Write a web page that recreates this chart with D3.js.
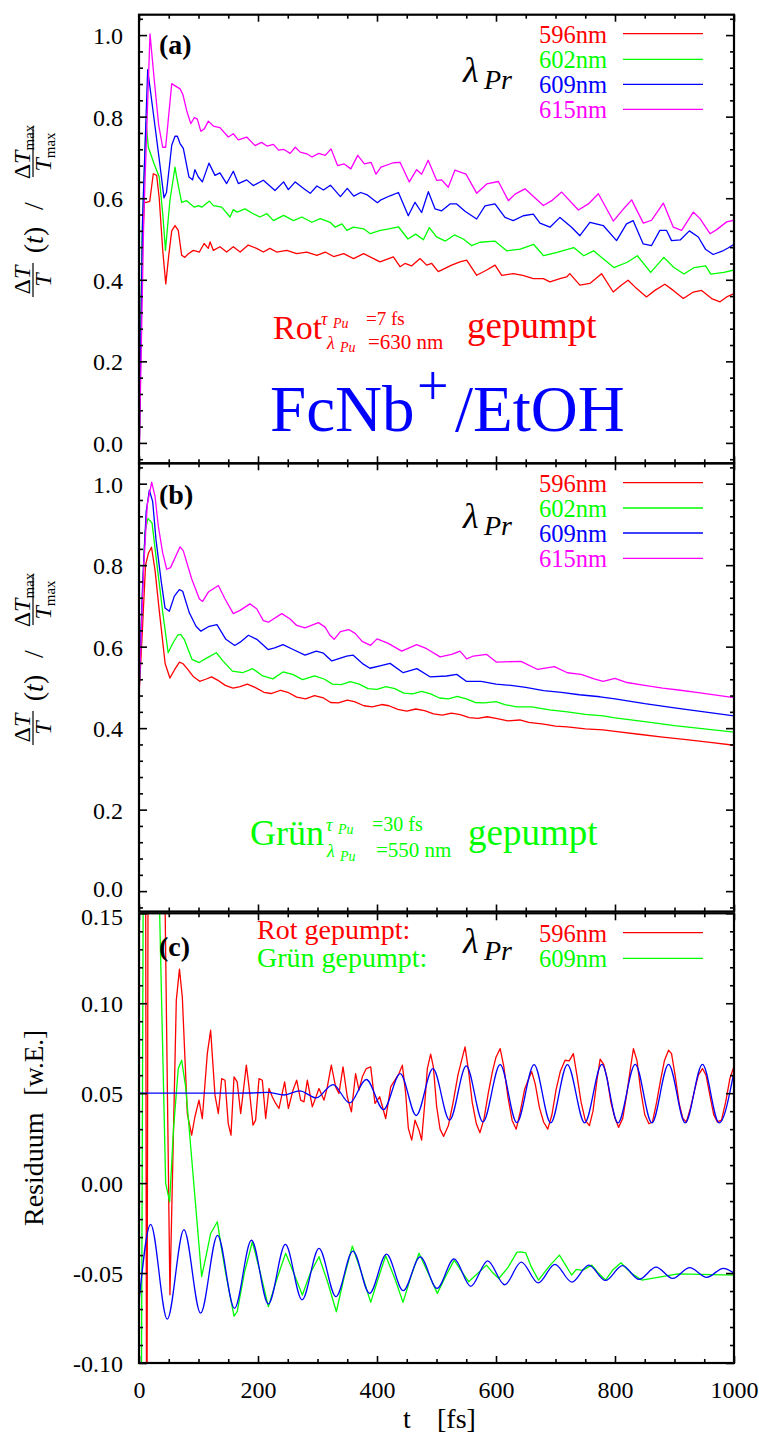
<!DOCTYPE html>
<html><head><meta charset="utf-8">
<script src="https://cdn.jsdelivr.net/npm/d3@7"></script>
<style>
body{margin:0;background:#fff}
svg{display:block}
text{font-family:"Liberation Serif","Times New Roman",serif}
</style>
</head><body>
<svg id="chart" width="759" height="1441"></svg>
<script>
// ---------------- DATA ----------------
const xTicks = [0, 200, 400, 600, 800, 1000];
const xTickLabels = ["0", "200", "400", "600", "800", "1000"];
const yTicksAB = [0.0, 0.2, 0.4, 0.6, 0.8, 1.0];
const yTickLabelsAB = ["0.0", "0.2", "0.4", "0.6", "0.8", "1.0"];
const yTicksC = [0.15, 0.10, 0.05, 0.00, -0.05, -0.10];
const yTickLabelsC = ["0.15", "0.10", "0.05", "0.00", "-0.05", "-0.10"];
const seriesNames = ["596nm", "602nm", "609nm", "615nm"];
const seriesColors = ["#ff0000", "#00ff00", "#0000ff", "#ff00ff"];

// Panel (a): Rot gepumpt  [t (fs), dT/T normalised]
const a596 = [[0,-0.06],[5,0.45],[9,0.59],[12.6,0.59],[18,0.592],[24,0.66],[29.7,0.656],[34,0.60],[40,0.47],[45,0.39],[50,0.46],[55,0.52],[60.5,0.533],[66,0.521],[71.7,0.46],[77,0.455],[83,0.464],[91.4,0.472],[101.5,0.468],[109.4,0.489],[116.5,0.477],[119.4,0.493],[125,0.472],[136,0.481],[147.3,0.468],[158.5,0.481],[170,0.468],[183.6,0.485],[197.6,0.477],[209,0.468],[220,0.477],[231.4,0.468],[248.3,0.472],[265,0.464],[282,0.468],[299,0.460],[313,0.468],[327,0.457],[344,0.464],[360.6,0.452],[377.5,0.464],[394.3,0.452],[405,0.444],[427.5,0.456],[438.7,0.432],[447,0.440],[458,0.434],[472.3,0.452],[483.5,0.436],[492,0.440],[503,0.420],[514.3,0.428],[525.5,0.436],[539.5,0.444],[550.7,0.448],[567.6,0.411],[584.4,0.424],[598.4,0.436],[609.6,0.411],[629.2,0.415],[645,0.411],[662.7,0.403],[679.5,0.403],[690.7,0.395],[707.5,0.403],[718.7,0.407],[724,0.415],[741,0.387],[757.8,0.391],[777.4,0.415],[797,0.370],[811,0.387],[822,0.399],[836,0.379],[852.9,0.358],[867,0.374],[883.8,0.389],[898,0.374],[914.8,0.354],[931.6,0.370],[945.6,0.374],[962.4,0.354],[976.5,0.346],[987.7,0.358],[1000,0.366]];
const a602 = [[0,-0.06],[5,0.5],[11.8,0.787],[15.7,0.725],[25.2,0.685],[34,0.652],[40,0.56],[44.5,0.472],[48,0.53],[52,0.595],[60.5,0.676],[63.3,0.652],[71.6,0.590],[80,0.594],[87,0.585],[93,0.578],[100,0.582],[105.5,0.578],[118.3,0.593],[125,0.582],[139,0.578],[153,0.554],[158.5,0.572],[165,0.566],[178,0.574],[192,0.562],[203,0.554],[215,0.562],[226,0.545],[243,0.558],[259.7,0.545],[273.7,0.554],[290.5,0.541],[304.5,0.550],[321.3,0.541],[329.7,0.529],[341,0.537],[349.4,0.521],[360.6,0.529],[377.5,0.525],[388.7,0.513],[405.5,0.521],[420,0.525],[436,0.530],[452,0.500],[465,0.512],[478,0.498],[488,0.528],[500,0.505],[515,0.495],[530,0.510],[545,0.500],[559,0.484],[573,0.492],[598,0.495],[618,0.471],[641,0.475],[663,0.487],[680,0.459],[702.7,0.467],[730.7,0.479],[747.5,0.459],[764,0.471],[798,0.430],[820.7,0.443],[837.5,0.459],[860,0.418],[882,0.455],[899,0.430],[916,0.414],[933,0.430],[952.4,0.434],[961,0.414],[983,0.418],[1000,0.424]];
const a609 = [[0,-0.06],[6,0.55],[14.6,0.915],[23.5,0.815],[33.6,0.70],[42,0.601],[46.2,0.614],[55,0.730],[60.5,0.752],[64.5,0.752],[69,0.734],[74.5,0.722],[84,0.652],[90,0.645],[94,0.670],[99.7,0.652],[106.5,0.640],[117.6,0.686],[127.7,0.656],[136,0.662],[147.3,0.636],[158.5,0.666],[167,0.636],[181,0.645],[192,0.631],[209,0.644],[228.6,0.619],[243,0.640],[251,0.621],[262.6,0.640],[276.6,0.624],[287.8,0.612],[299,0.630],[310,0.620],[321.7,0.632],[338.5,0.604],[350,0.624],[361,0.605],[372.6,0.614],[383.8,0.608],[400.7,0.589],[406.7,0.596],[422,0.606],[436,0.614],[452.6,0.557],[463.9,0.590],[475,0.565],[486.3,0.616],[497.5,0.574],[508.7,0.569],[522.7,0.586],[533.9,0.586],[547.9,0.568],[567.5,0.549],[581.5,0.581],[598.3,0.586],[615.1,0.553],[629,0.545],[645.8,0.557],[662.7,0.561],[673.9,0.539],[690.7,0.529],[707.5,0.553],[727,0.529],[741,0.508],[757.8,0.541],[780.2,0.533],[802.6,0.496],[819.4,0.537],[830.6,0.545],[847.4,0.488],[861.4,0.484],[875.4,0.521],[886.7,0.521],[895,0.496],[910,0.498],[925,0.520],[940,0.505],[952,0.475],[965,0.462],[980,0.470],[990,0.478],[1000,0.487]];
const a615 = [[0,-0.06],[8,0.55],[18.5,1.003],[25,0.90],[33,0.78],[39.8,0.725],[44.8,0.725],[55,0.881],[63.5,0.873],[69,0.868],[73.6,0.855],[80.3,0.814],[87,0.783],[93.2,0.798],[98,0.794],[104,0.764],[109.8,0.770],[116.5,0.789],[125,0.777],[136,0.773],[150,0.750],[158.5,0.758],[167,0.743],[181,0.750],[195,0.729],[206,0.737],[215,0.728],[226,0.732],[234.5,0.718],[243,0.720],[254,0.710],[262.6,0.725],[271,0.713],[282,0.709],[290.8,0.701],[302,0.710],[313,0.705],[322.8,0.721],[333.7,0.680],[344.9,0.684],[356,0.672],[367.6,0.705],[378.8,0.684],[390,0.688],[398.3,0.659],[406.7,0.676],[427.5,0.687],[438.7,0.688],[454.3,0.640],[466.6,0.670],[475,0.659],[486,0.693],[500.2,0.644],[508.6,0.645],[519.8,0.627],[531,0.669],[549.6,0.659],[567.6,0.612],[584.4,0.635],[604,0.641],[620.8,0.594],[632,0.610],[648.7,0.623],[679.6,0.582],[693.6,0.594],[710.4,0.615],[738.4,0.571],[755.2,0.586],[772,0.611],[797.2,0.544],[816.8,0.578],[828,0.596],[847.6,0.539],[861.6,0.546],[881.2,0.588],[898,0.529],[912,0.521],[931.6,0.566],[942.9,0.550],[959.7,0.513],[970.9,0.523],[987.7,0.542],[1000,0.546]];

// Panel (b): Grün gepumpt
const b596 = [[0,0.48],[5,0.62],[11,0.80],[16,0.83],[21,0.844],[27,0.787],[34,0.689],[44,0.558],[52,0.523],[60,0.544],[68,0.562],[74,0.558],[80,0.548],[91,0.527],[102,0.515],[112,0.520],[122,0.526],[132,0.518],[145,0.505],[158,0.498],[170,0.502],[182,0.508],[195,0.500],[210,0.488],[222,0.485],[238,0.493],[250,0.488],[265,0.476],[280,0.472],[295,0.480],[310,0.474],[322,0.463],[335,0.462],[350,0.469],[362,0.465],[378,0.455],[392,0.452],[408,0.458],[420,0.455],[435,0.446],[450,0.442],[465,0.447],[480,0.443],[495,0.435],[510,0.432],[525,0.437],[540,0.433],[555,0.426],[570,0.424],[585,0.428],[600,0.424],[620,0.418],[640,0.420],[655,0.414],[680,0.410],[700,0.405],[720,0.403],[750,0.398],[780,0.396],[800,0.392],[840,0.385],[880,0.378],[920,0.372],[960,0.365],[1000,0.358]];
const b602 = [[0,0.48],[5,0.70],[10,0.88],[15,0.915],[22,0.903],[28.6,0.821],[40,0.683],[49,0.585],[57,0.609],[65,0.628],[70,0.630],[76,0.618],[89,0.569],[101,0.561],[115,0.573],[130,0.585],[141,0.565],[157,0.540],[174,0.536],[191,0.546],[208,0.528],[225,0.521],[242,0.538],[258,0.532],[275,0.519],[295,0.528],[312,0.520],[325,0.508],[340,0.507],[355,0.514],[370,0.508],[385,0.497],[400,0.495],[415,0.502],[430,0.497],[445,0.486],[460,0.484],[475,0.490],[490,0.484],[505,0.474],[520,0.472],[535,0.478],[550,0.472],[565,0.463],[580,0.462],[600,0.465],[615,0.458],[635,0.452],[660,0.452],[690,0.445],[720,0.440],[750,0.434],[780,0.430],[800,0.425],[850,0.416],[900,0.406],[950,0.398],[1000,0.390]];
const b609 = [[0,0.48],[6,0.75],[12,0.93],[17.4,0.984],[23,0.956],[28.6,0.862],[37,0.764],[43.7,0.695],[51,0.687],[59.4,0.724],[67.8,0.740],[73.4,0.736],[84.6,0.683],[95.8,0.650],[104,0.638],[118,0.650],[131,0.654],[146,0.618],[161,0.603],[170,0.611],[184,0.628],[198,0.618],[217,0.593],[228,0.597],[242,0.605],[259,0.593],[279,0.579],[298,0.589],[310,0.584],[324,0.565],[332,0.569],[349,0.577],[360,0.579],[377,0.557],[388,0.547],[405,0.553],[422,0.559],[444,0.536],[467,0.546],[489,0.526],[517,0.528],[534,0.532],[550,0.515],[575,0.515],[600,0.508],[625,0.505],[650,0.500],[680,0.492],[710,0.488],[740,0.482],[775,0.477],[800,0.472],[850,0.460],[900,0.450],[950,0.440],[1000,0.430]];
const b615 = [[0,0.48],[8,0.80],[14,0.95],[21.3,1.004],[27,0.968],[32.5,0.895],[39.8,0.83],[46.6,0.79],[53,0.794],[69,0.845],[74.5,0.835],[88.6,0.766],[101.5,0.717],[107,0.711],[116.5,0.734],[133.4,0.750],[144.6,0.717],[158.5,0.681],[169.8,0.689],[186.5,0.705],[197.8,0.693],[209,0.664],[217.4,0.660],[240,0.681],[254,0.668],[265,0.652],[279,0.646],[301.5,0.659],[312.7,0.648],[321,0.628],[328,0.618],[338.5,0.637],[352.5,0.642],[363.7,0.632],[375,0.613],[389,0.603],[400,0.619],[419,0.608],[441.5,0.589],[466.6,0.605],[483.5,0.595],[506,0.575],[525.5,0.581],[539.5,0.589],[550.7,0.570],[562,0.577],[584.4,0.581],[601,0.562],[642,0.564],[670,0.544],[698,0.551],[720,0.536],[743,0.532],[765,0.521],[780,0.515],[800,0.522],[820,0.512],[850,0.505],[880,0.498],[910,0.493],[940,0.487],[970,0.481],[1000,0.475]];

// Panel (c): residuals (w.E.)
const cRot596 = [[0,0.30],[10,0.40],[13,-0.20],[16,0.30],[30,0.40],[44,0.15],[52,-0.062],[62.7,0.1017],[68,0.119],[72.8,0.1035],[81.2,0.0387],[88.5,0.0267],[94,0.0369],[100.8,0.0461],[106.4,0.0359],[114.8,0.072],[120.4,0.085],[127.7,0.0489],[133.3,0.0387],[139,0.0581],[144.5,0.0572],[150,0.0331],[154.6,0.0267],[159.7,0.0591],[165,0.0563],[170.9,0.0387],[180.4,0.0656],[184.9,0.0535],[191.6,0.0322],[196,0.035],[201.7,0.0581],[207.3,0.0572],[212.9,0.0359],[218.5,0.0526],[224,0.048],[229.7,0.0443],[235.3,0.0415],[244.8,0.0563],[251,0.0415],[258.8,0.0517],[265,0.0572],[271.7,0.0461],[277.3,0.0452],[282.9,0.0572],[291.3,0.0424],[302.5,0.0526],[311,0.0461],[316.5,0.0535],[323.2,0.0656],[330.5,0.0535],[336,0.0498],[342.9,0.0646],[350,0.048],[357,0.0396],[364,0.0609],[369.7,0.0517],[375.4,0.0591],[382,0.0637],[389.4,0.0646],[396.6,0.0443],[404.5,0.048],[414.6,0.0359],[423,0.0535],[437,0.0609],[442.6,0.0656],[448.2,0.0498],[452.7,0.0304],[458.3,0.0239],[463.9,0.035],[470.6,0.0294],[475,0.0239],[480.7,0.0461],[484.6,0.0637],[490.2,0.0717],[494.7,0.0646],[500.3,0.0424],[506,0.030],[512,0.026],[520,0.032],[528,0.045],[536,0.060],[542,0.068],[548,0.0757],[554,0.062],[560,0.045],[567,0.033],[573,0.028],[580,0.036],[587,0.050],[594,0.062],[600,0.070],[607,0.0748],[613,0.065],[620,0.048],[627,0.035],[634,0.030],[641,0.040],[648,0.052],[654,0.0572],[660,0.062],[666,0.055],[673,0.042],[680,0.034],[687,0.030],[694,0.038],[701,0.052],[708,0.062],[716,0.0683],[723,0.068],[730,0.072],[736,0.060],[743,0.045],[750,0.035],[757,0.032],[763,0.040],[770,0.058],[775,0.0689],[781,0.066],[787,0.058],[793,0.045],[800,0.036],[806,0.031],[813,0.036],[820,0.050],[826,0.064],[831,0.0748],[837,0.068],[843,0.052],[850,0.038],[857,0.033],[863,0.034],[870,0.045],[877,0.058],[883,0.068],[890,0.0739],[895,0.072],[901,0.060],[908,0.044],[914,0.036],[920,0.034],[927,0.042],[934,0.052],[940,0.060],[947,0.0637],[953,0.060],[960,0.048],[966,0.038],[972,0.034],[979,0.035],[986,0.045],[993,0.058],[1000,0.065]];
const cRotFit = [[0,0.0500],[100,0.0500],[150,0.0500],[185,0.0501],[215.7,0.0504],[244,0.0490],[270,0.0513],[298,0.0474],[326,0.0548],[354,0.0446],[382,0.0576],[411,0.0409],[439,0.0609],[466,0.0376],[494,0.0637],[522,0.0350],[550,0.0652],[578,0.0340],[607,0.0659],[635,0.0336],[664,0.0659],[692,0.0335],[720,0.0659],[749,0.0335],[778,0.0660],[805,0.0335],[834,0.0660],[862,0.0335],[890,0.0660],[918,0.0335],[947,0.0660],[975,0.0335],[1000,0.0620]];
const cGruen609 = [[0,-0.20],[4,-0.12],[8,0.25],[20,0.35],[34.7,0.15],[44.8,0.0],[51.5,-0.0104],[58,0.03],[66,0.0637],[71.7,0.0683],[78.4,0.0535],[95,-0.0116],[105.3,-0.052],[113,-0.040],[120.4,-0.028],[131.7,-0.0215],[138,-0.035],[145.7,-0.0502],[159.7,-0.0739],[165,-0.0715],[177,-0.050],[190.5,-0.0326],[204,-0.050],[217.4,-0.0687],[232,-0.053],[246.5,-0.039],[260,-0.050],[274.5,-0.0622],[288,-0.050],[302.5,-0.0409],[317,-0.055],[331.7,-0.0715],[345,-0.052],[358.5,-0.035],[374,-0.050],[389.4,-0.0663],[402,-0.053],[414.6,-0.0404],[430,-0.053],[443.7,-0.0663],[457,-0.052],[470.6,-0.039],[486,-0.050],[501.4,-0.0613],[515,-0.052],[529.8,-0.0428],[542,-0.049],[554,-0.0548],[570,-0.050],[584,-0.0456],[595,-0.050],[604.7,-0.053],[620,-0.047],[635,-0.0385],[641,-0.0382],[650,-0.0388],[660,-0.047],[671.5,-0.0539],[690,-0.046],[706.6,-0.040],[716,-0.045],[727,-0.0511],[735,-0.048],[745,-0.0485],[761,-0.0456],[772,-0.050],[784,-0.0539],[797,-0.048],[810,-0.0443],[827,-0.050],[845,-0.0539],[906,-0.0505],[1000,-0.0511]];
const cGruenFit = [[0,-0.066],[19.6,-0.0229],[47.5,-0.0756],[75.5,-0.0258],[103.5,-0.0723],[132,-0.0290],[160.5,-0.0696],[189,-0.0317],[217.5,-0.0672],[246,-0.0341],[274,-0.0649],[302.5,-0.0363],[331,-0.0631],[359.5,-0.0378],[387.5,-0.0613],[416,-0.0395],[444,-0.0598],[472.5,-0.0410],[501,-0.0585],[529.5,-0.0421],[557.5,-0.0574],[586,-0.0432],[614.5,-0.0565],[642.5,-0.0439],[671,-0.0555],[699,-0.0452],[727.5,-0.0550],[756,-0.0456],[784,-0.0541],[812.5,-0.0459],[840.5,-0.0535],[869,-0.0467],[897,-0.0530],[925.5,-0.0470],[954,-0.0524],[982,-0.0474],[1000,-0.0500]];

// ---------------- DRAWING ----------------
const svg = d3.select("#chart");
const X0 = 139, X1 = 734;
const x = d3.scaleLinear().domain([0, 1000]).range([X0, X1]);

const panels = [
  {key: "a", top: 14.7, bottom: 463.3, dom: [-0.05, 1.05]},
  {key: "b", top: 463.3, bottom: 911.5, dom: [-0.05, 1.05]},
  {key: "c", top: 913.3, bottom: 1363, dom: [-0.10, 0.15]}
];
panels.forEach(p => { p.y = d3.scaleLinear().domain(p.dom).range([p.bottom, p.top]); });

const defs = svg.append("defs");
panels.forEach(p => {
  defs.append("clipPath").attr("id", "clip-" + p.key)
    .append("rect").attr("x", X0).attr("y", p.top).attr("width", X1 - X0).attr("height", p.bottom - p.top);
});

const xMinor = d3.range(0, 1001, 50).filter(v => v % 200 !== 0);

function styleAxis(sel) {
  sel.attr("font-family", null);
  sel.select(".domain").remove();
  sel.selectAll(".tick line").attr("stroke", "#000").attr("stroke-width", 1.6);
  sel.selectAll("text").attr("font-size", 24).attr("fill", "#000");
}

// per-panel label nudges (px) so the touching labels at the b/c seam do not collide
function drawAxes(p, majorY, minorY, labels, showX, nudge) {
  const g = svg.append("g");
  g.append("g").attr("transform", `translate(${X0},0)`)
    .call(d3.axisLeft(p.y).tickValues(majorY).tickSize(-8).tickPadding(16)
      .tickFormat((d, i) => labels[i])).call(styleAxis)
    .selectAll("text").attr("dy", "0.36em")
    .attr("y", (d, i) => (nudge && nudge[i]) || 0);
  g.append("g").attr("transform", `translate(${X0},0)`)
    .call(d3.axisLeft(p.y).tickValues(minorY).tickSize(-4).tickFormat("")).call(styleAxis);
  g.append("g").attr("transform", `translate(${X1},0)`)
    .call(d3.axisRight(p.y).tickValues(majorY).tickSize(-8).tickFormat("")).call(styleAxis);
  g.append("g").attr("transform", `translate(${X1},0)`)
    .call(d3.axisRight(p.y).tickValues(minorY).tickSize(-4).tickFormat("")).call(styleAxis);
  g.append("g").attr("transform", `translate(0,${p.top})`)
    .call(d3.axisTop(x).tickValues(xTicks).tickSize(-7).tickFormat("")).call(styleAxis);
  g.append("g").attr("transform", `translate(0,${p.top})`)
    .call(d3.axisTop(x).tickValues(xMinor).tickSize(-4).tickFormat("")).call(styleAxis);
  g.append("g").attr("transform", `translate(0,${p.bottom})`)
    .call(d3.axisBottom(x).tickValues(xTicks).tickSize(-7).tickPadding(18)
      .tickFormat((d, i) => showX ? xTickLabels[i] : "")).call(styleAxis);
  g.append("g").attr("transform", `translate(0,${p.bottom})`)
    .call(d3.axisBottom(x).tickValues(xMinor).tickSize(-4).tickFormat("")).call(styleAxis);
}

function drawSeries(p, data, color, curve) {
  const line = d3.line().x(d => x(d[0])).y(d => p.y(d[1])).curve(curve || d3.curveLinear);
  svg.append("path").datum(data).attr("clip-path", `url(#clip-${p.key})`)
    .attr("fill", "none").attr("stroke", color).attr("stroke-width", 1.3)
    .attr("stroke-linejoin", "round").attr("d", line);
}

const minorAB = d3.range(-1, 27).map(k => k * 0.04).filter(v => Math.abs(v * 5 - Math.round(v * 5)) > 1e-6 && v >= -0.05 && v <= 1.05);
const minorC = d3.range(-10, 16).map(k => k * 0.01).filter(v => Math.abs(v * 20 - Math.round(v * 20)) > 1e-6);

const pa = panels[0], pb = panels[1], pc = panels[2];
[a596, a602, a609, a615].forEach((s, i) => drawSeries(pa, s, seriesColors[i]));
[b596, b602, b609, b615].forEach((s, i) => drawSeries(pb, s, seriesColors[i]));
drawSeries(pc, cRot596, "#ff0000");
drawSeries(pc, cGruen609, "#00ff00");
drawSeries(pc, cRotFit, "#0000ff", d3.curveMonotoneX);
drawSeries(pc, cGruenFit, "#0000ff", d3.curveMonotoneX);

drawAxes(pa, yTicksAB, minorAB, yTickLabelsAB, false);
drawAxes(pb, yTicksAB, minorAB, yTickLabelsAB, false, [-3, 0, 0, 0, 0, 0]);
drawAxes(pc, yTicksC, minorC, yTickLabelsC, true, [3, 0, 0, 0, 0, 0]);

panels.forEach(p => {
  svg.append("rect").attr("x", X0).attr("y", p.top).attr("width", X1 - X0).attr("height", p.bottom - p.top)
    .attr("fill", "none").attr("stroke", "#000").attr("stroke-width", 2.2);
});

// ---------- text helpers ----------
function txt(xp, yp, s, size, color, opts) {
  opts = opts || {};
  const t = svg.append("text").attr("x", xp).attr("y", yp).attr("font-size", size)
    .attr("fill", color || "#000").text(s);
  if (opts.italic) t.attr("font-style", "italic");
  if (opts.bold) t.attr("font-weight", "bold");
  if (opts.anchor) t.attr("text-anchor", opts.anchor);
  return t;
}

txt(159, 54, "(a)", 28, "#000", {bold: true});
txt(159, 504, "(b)", 28, "#000", {bold: true});
txt(159, 956, "(c)", 28, "#000", {bold: true});

function lambdaPr(xp, base) {
  txt(xp, base, "λ", 36, "#000", {italic: true});
  txt(xp + 21, base + 7, "Pr", 28, "#000", {italic: true});
}
const legA = [33.7, 59.3, 84.3, 109.3];
const legB = [482.7, 508, 533, 558.3];
seriesNames.forEach((n, i) => {
  txt(607, legA[i] + 9, n, 24.5, seriesColors[i], {anchor: "end"});
  svg.append("line").attr("x1", 623).attr("x2", 703).attr("y1", legA[i]).attr("y2", legA[i]).attr("stroke", seriesColors[i]).attr("stroke-width", 1.3);
  txt(607, legB[i] + 9, n, 24.5, seriesColors[i], {anchor: "end"});
  svg.append("line").attr("x1", 623).attr("x2", 703).attr("y1", legB[i]).attr("y2", legB[i]).attr("stroke", seriesColors[i]).attr("stroke-width", 1.3);
});
lambdaPr(463, 82);
lambdaPr(463, 528);
[[932.7, "596nm", "#ff0000"], [958.3, "609nm", "#00ff00"]].forEach(([ly, n, c]) => {
  txt(607, ly + 9, n, 24.5, c, {anchor: "end"});
  svg.append("line").attr("x1", 623).attr("x2", 703).attr("y1", ly).attr("y2", ly).attr("stroke", c).attr("stroke-width", 1.3);
});
lambdaPr(463, 953);
txt(257, 939, "Rot gepumpt:", 28, "#ff0000");
txt(257, 967, "Grün gepumpt:", 28, "#00ff00");

// annotation (a)
const red = "#ff0000", grn = "#00ff00";
txt(273, 339, "Rot", 34, red);
txt(321, 325, "τ", 18, red, {italic: true});
txt(333, 328, "Pu", 14, red, {italic: true});
txt(366, 325, "=7 fs", 19, red);
txt(327, 349, "λ", 18, red, {italic: true});
txt(340, 352, "Pu", 14, red, {italic: true});
txt(368, 349, "=630 nm", 21, red);
txt(467, 338, "gepumpt", 37, red);
// FcNb+/EtOH
txt(270, 431, "FcNb", 65, "#0000ff");
txt(417, 405, "+", 56, "#0000ff");
txt(455, 431, "/EtOH", 65, "#0000ff");

// annotation (b)
txt(250, 845, "Grün", 36, grn);
txt(326, 831, "τ", 18, grn, {italic: true});
txt(338, 834, "Pu", 14, grn, {italic: true});
txt(372, 831, "=30 fs", 20, grn);
txt(327, 857, "λ", 18, grn, {italic: true});
txt(340, 861, "Pu", 14, grn, {italic: true});
txt(376, 857, "=550 nm", 21, grn);
txt(468, 845, "gepumpt", 37, grn);

function fracLabel(cx, cy) {
  const g = svg.append("g").attr("transform", `translate(${cx},${cy}) rotate(-90)`);
  let t = g.append("text").attr("x", -68).attr("y", -3).attr("text-anchor", "middle").attr("font-size", 24);
  t.append("tspan").text("Δ"); t.append("tspan").attr("font-style", "italic").text("T");
  g.append("line").attr("x1", -85).attr("x2", -51).attr("y1", 0).attr("y2", 0).attr("stroke", "#000").attr("stroke-width", 1.2);
  g.append("text").attr("x", -68).attr("y", 18).attr("text-anchor", "middle").attr("font-size", 24).attr("font-style", "italic").text("T");
  t = g.append("text").attr("x", -28).attr("y", 10).attr("text-anchor", "middle").attr("font-size", 28);
  t.append("tspan").text("("); t.append("tspan").attr("font-style", "italic").text("t"); t.append("tspan").text(")");
  g.append("text").attr("x", 6).attr("y", 10).attr("text-anchor", "middle").attr("font-size", 28).text("/");
  t = g.append("text").attr("x", 60).attr("y", -3).attr("text-anchor", "middle").attr("font-size", 24);
  t.append("tspan").text("Δ"); t.append("tspan").attr("font-style", "italic").text("T");
  t.append("tspan").attr("font-size", 15).attr("dy", 4).text("max");
  g.append("line").attr("x1", 35).attr("x2", 85).attr("y1", 0).attr("y2", 0).attr("stroke", "#000").attr("stroke-width", 1.2);
  t = g.append("text").attr("x", 60).attr("y", 18).attr("text-anchor", "middle").attr("font-size", 24);
  t.append("tspan").attr("font-style", "italic").text("T");
  t.append("tspan").attr("font-size", 15).attr("dy", 4).text("max");
}
fracLabel(33, 212);
fracLabel(33, 660);

svg.append("text").attr("transform", "translate(43,1226) rotate(-90)").attr("font-size", 28).text("Residuum");
svg.append("text").attr("transform", "translate(43,1030) rotate(-90)").attr("text-anchor", "end").attr("font-size", 27).text("[w.E.]");

txt(403, 1428, "t", 28, "#000");
txt(437, 1428, "[fs]", 28, "#000");
</script>
</body></html>
